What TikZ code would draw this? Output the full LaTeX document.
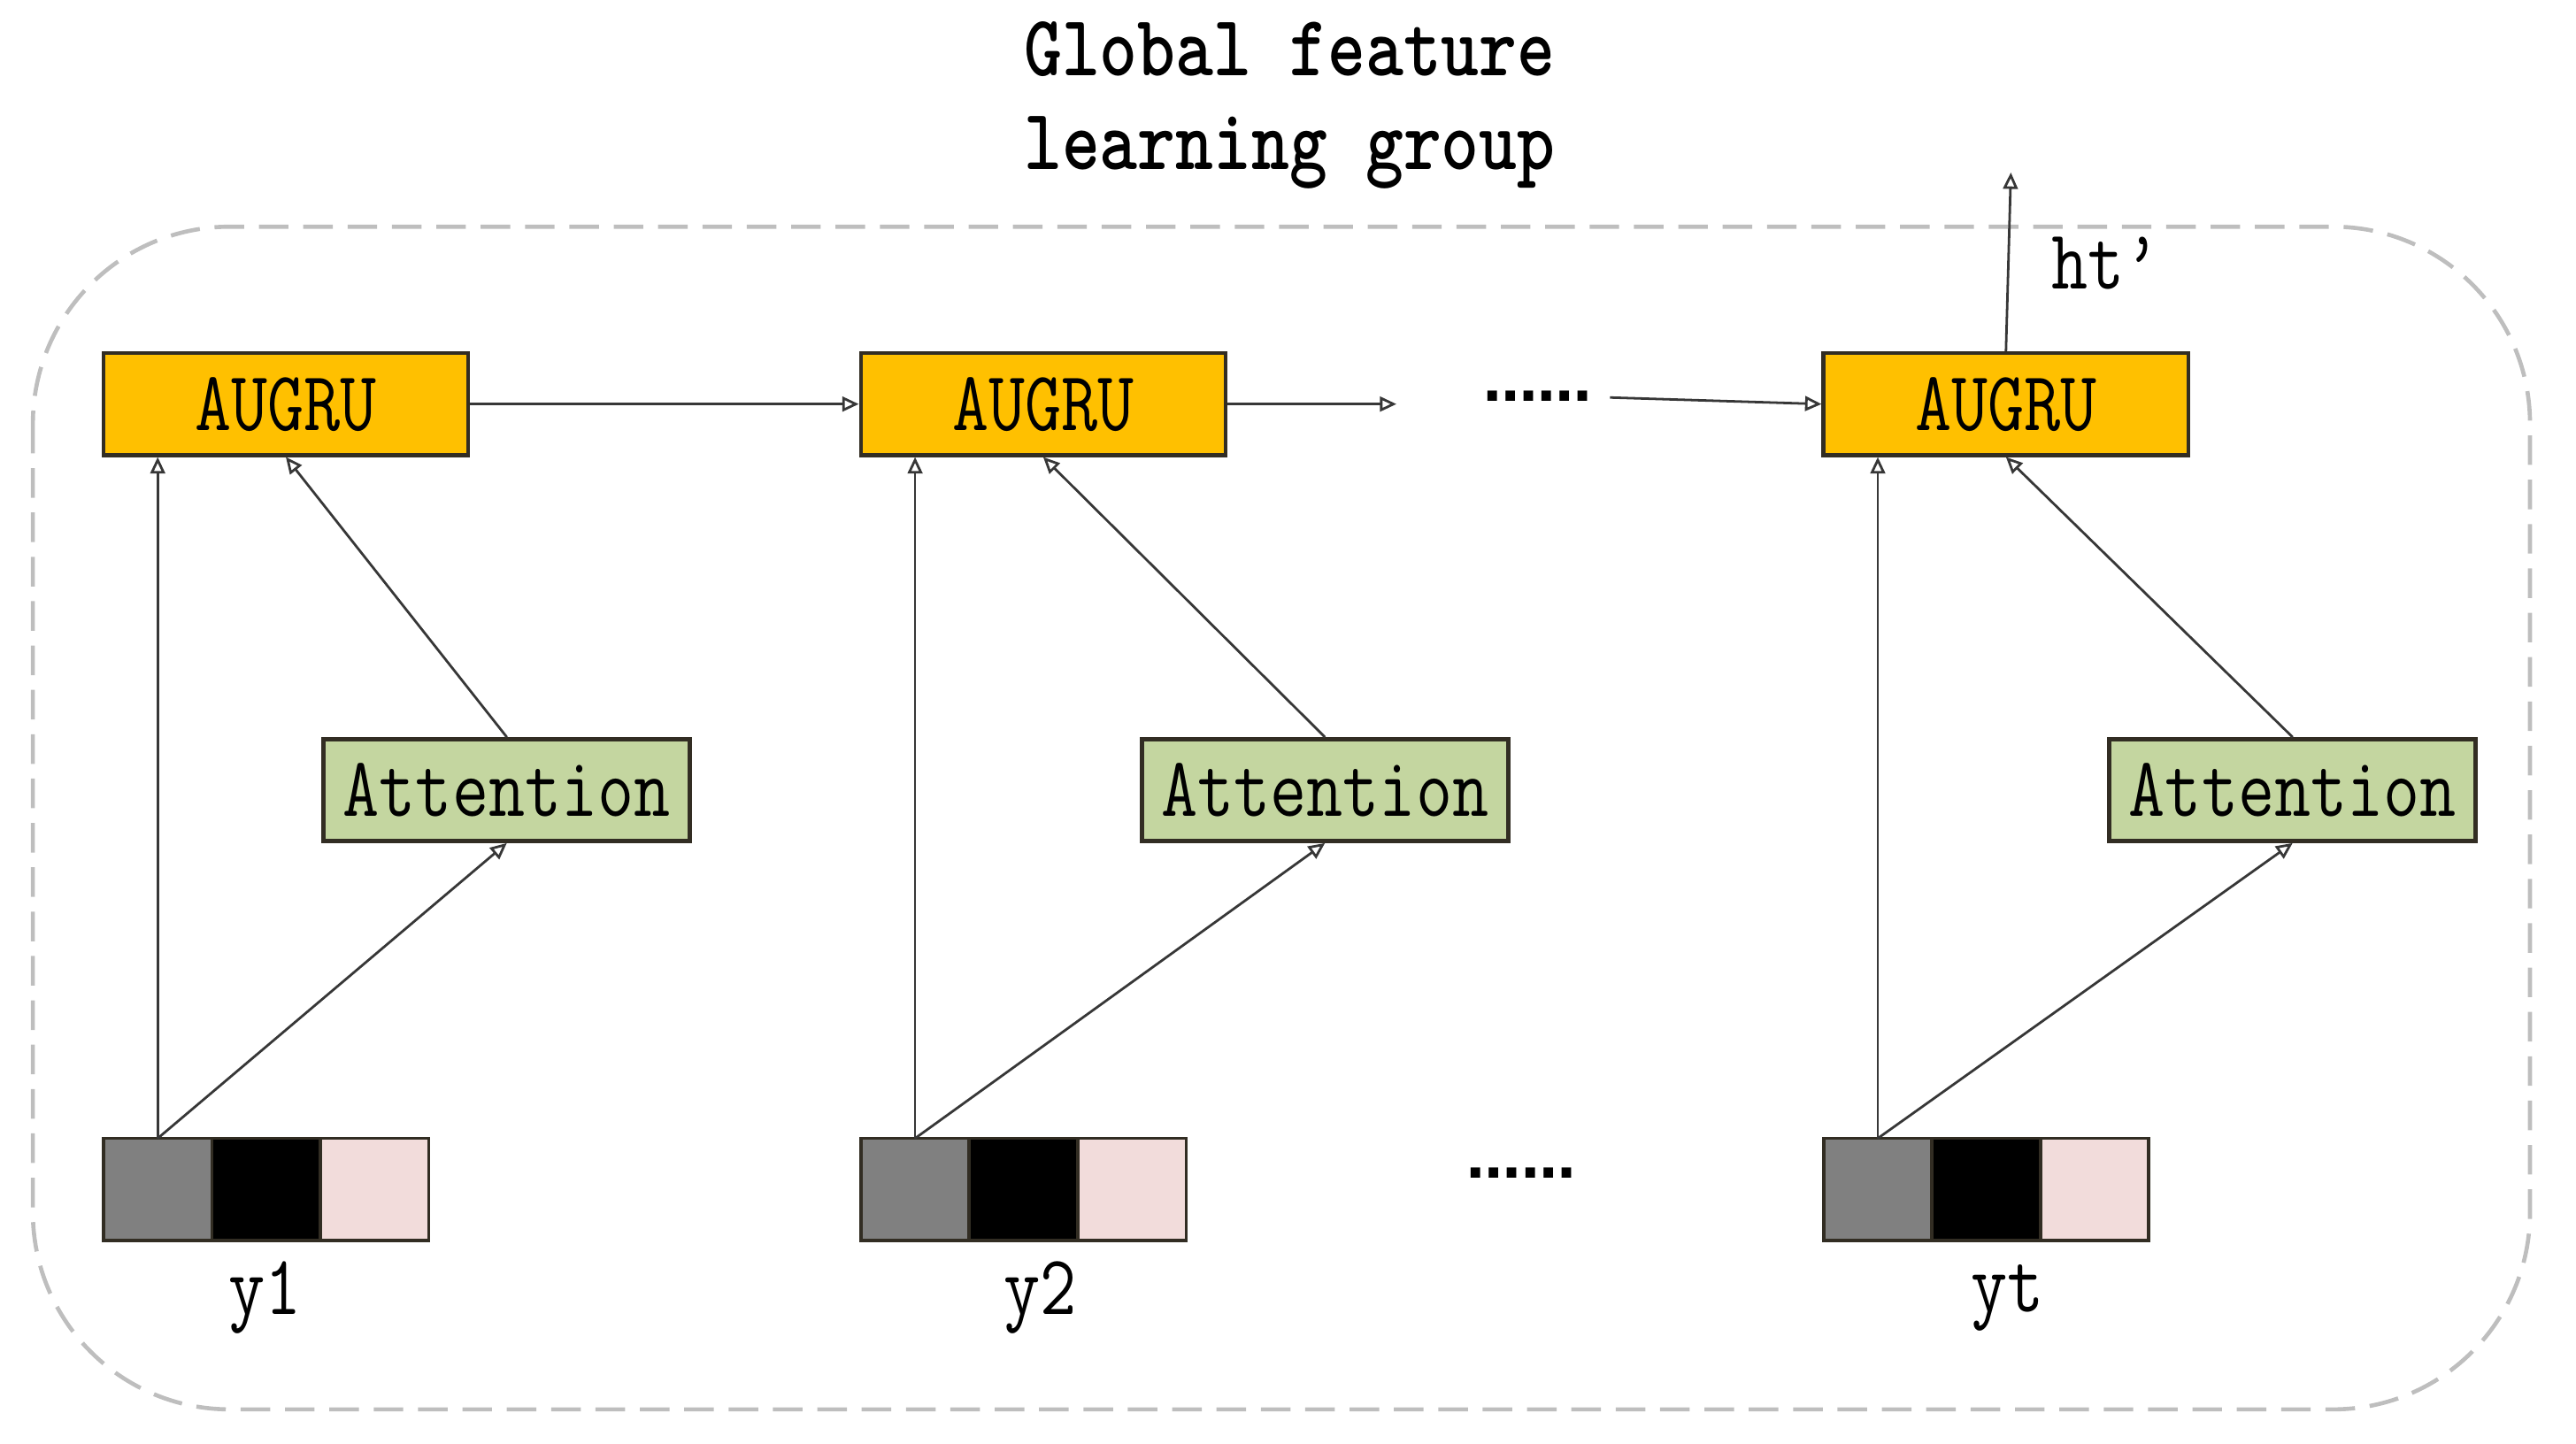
\documentclass[tikz,border=0pt]{standalone}
\usepackage{fontspec}
\usepackage{graphicx}
\newfontfamily\dotfont{DejaVu Sans}
\usetikzlibrary{arrows.meta,positioning}
\definecolor{AmberGRU}{RGB}{255,192,0}
\definecolor{GreenAtt}{RGB}{196,214,160}
\definecolor{PinkCell}{RGB}{242,220,219}
\definecolor{GrayCell}{RGB}{128,128,128}
\definecolor{EdgeDark}{RGB}{50,45,35}
\definecolor{LineGray}{RGB}{55,55,55}
\definecolor{FrameGray}{RGB}{190,190,190}
\newcommand{\tallfont}[1]{\scalebox{1}[1.2]{#1}}

\begin{document}
\begin{tikzpicture}[x=1pt,y=1pt,
  >={Triangle[open,length=10pt,width=9pt]},
  txt/.style={font=\ttfamily\fontsize{43}{48}\selectfont,inner sep=0pt},
  gru/.style={txt,draw=EdgeDark,line width=2.5pt,fill=AmberGRU,
    minimum width=222pt,minimum height=62pt},
  att/.style={txt,draw=EdgeDark,line width=2.5pt,fill=GreenAtt,
    minimum width=223pt,minimum height=62pt},
  cell/.style={draw=EdgeDark,line width=2pt,minimum width=66pt,
    minimum height=62pt,inner sep=0pt,outer sep=0pt},
  link/.style={->,draw=LineGray,line width=1.5pt},
  dots/.style={font=\dotfont\bfseries\fontsize{33}{36}\selectfont,inner sep=0pt}]
  \useasboundingbox (0,0) rectangle (1568,879);
  \draw[FrameGray,line width=2.5pt,dash pattern=on 18pt off 9pt,
    rounded corners=120pt] (20,741) rectangle (1540,21);
  \node[txt,font=\ttfamily\bfseries\fontsize{44}{57}\selectfont,align=center]
    (Title) at (785,815) {\tallfont{Global feature}\\\tallfont{learning group}};

  \node[gru] (G1) at (174,633) {\tallfont{AUGRU}};
  \node[gru] (G2) at (635,633) {\tallfont{AUGRU}};
  \node[gru] (G3) at (1221,633) {\tallfont{AUGRU}};
  \node[att] (A1) at (308.5,398) {\tallfont{Attention}};
  \node[att] (A2) at (806.5,398) {\tallfont{Attention}};
  \node[att] (A3) at (1395.5,398) {\tallfont{Attention}};

  \node[cell,fill=GrayCell] (Y1a) at (96,155) {};
  \node[cell,fill=black,right=0pt of Y1a] (Y1b) {};
  \node[cell,fill=PinkCell,right=0pt of Y1b] (Y1c) {};
  \node[cell,fill=GrayCell] (Y2a) at (557,155) {};
  \node[cell,fill=black,right=0pt of Y2a] (Y2b) {};
  \node[cell,fill=PinkCell,right=0pt of Y2b] (Y2c) {};
  \node[cell,fill=GrayCell] (Y3a) at (1143,155) {};
  \node[cell,fill=black,right=0pt of Y3a] (Y3b) {};
  \node[cell,fill=PinkCell,right=0pt of Y3b] (Y3c) {};
  \node[txt] (L1) at (161.5,89) {\tallfont{y1}};
  \node[txt] (L2) at (633,89) {\tallfont{y2}};
  \node[txt] (L3) at (1222,89) {\tallfont{yt}};

  % inputs
  \draw[link] (Y1a.north) -- (G1.south -| Y1a.north);
  \draw[link] (Y1a.north) -- (A1.south);
  \draw[link] (A1.north) -- (G1.south);
  \draw[link] (Y2a.north) -- (G2.south -| Y2a.north);
  \draw[link] (Y2a.north) -- (A2.south);
  \draw[link] (A2.north) -- (G2.south);
  \draw[link] (Y3a.north) -- (G3.south -| Y3a.north);
  \draw[link] (Y3a.north) -- (A3.south);
  \draw[link] (A3.north) -- (G3.south);

  % recurrence
  \coordinate (E2) at (850,633);
  \coordinate (S3) at (980,637);
  \coordinate (Out) at (1224,774);
  \draw[link] (G1) -- (G2);
  \draw[link] (G2) -- (E2);
  \node[dots] (DotsTop) at (936,638) {……};
  \node[dots] (DotsBot) at (926,165) {……};
  \draw[link] (S3) -- (G3.west);
  \draw[link] (G3.north) -- (Out);
  \node[txt] (Ht) at (1282,719) {\tallfont{ht’}};
\end{tikzpicture}
\end{document}
